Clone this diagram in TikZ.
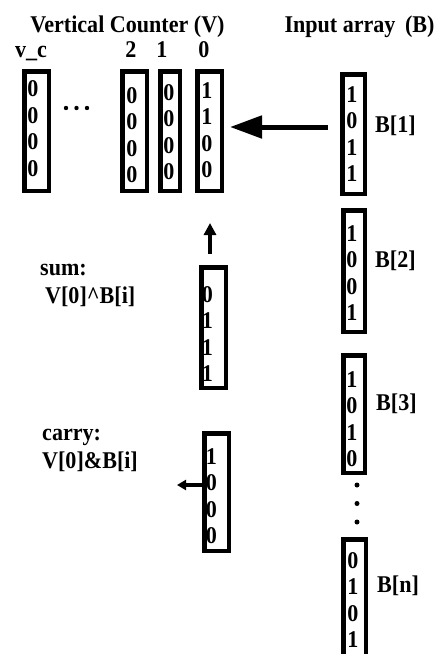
\documentclass[tikz,border=0pt]{standalone}
\usepackage{fontspec}
\setmainfont{Liberation Serif}[FakeStretch=0.92]
\usetikzlibrary{arrows.meta}
\begin{document}
\begin{tikzpicture}[x=1pt,y=-1pt,
  cell/.style={draw,line width=4.5pt,inner sep=0pt,outer sep=0pt,minimum width=24.5pt,minimum height=119.5pt},
  digits/.style={inner sep=0pt,align=center,font=\fontsize{24}{26.5}\selectfont\bfseries},
  lbl/.style={inner sep=0pt,anchor=base,font=\fontsize{24}{26}\selectfont\bfseries},
  lblw/.style={lbl,anchor=base west},
  dotmark/.style={fill=black,draw=none},
  bigarrow/.style={line width=5pt,-{Triangle[length=32pt,width=22pt]}},
  midarrow/.style={line width=4pt,-{Triangle[length=12pt,width=12pt]}},
  smallarrow/.style={line width=3.5pt,-{Triangle[length=9pt,width=10pt]}}]
\useasboundingbox (0,0) rectangle (439,654);

% headings
\node[lbl] (hv) at (127.5,32) {Vertical Counter (V)};
\node[lbl] (hb) at (359.5,32) {Input array\hspace{4pt} (B)};
\node[lbl] (ivc) at (31,57) {v\_c};
\node[lbl] (i2) at (131,57) {2};
\node[lbl] (i1) at (162,57) {1};
\node[lbl] (i0) at (204,57) {0};

% vertical counter cells
\node[cell] (Vc) at (36.5,131) {};
\node[digits] (Vcd) at (33,128.5) {0\\0\\0\\0};
\node[cell] (V2) at (134.5,131) {};
\node[digits] (V2d) at (132,135) {0\\0\\0\\0};
\node[cell,minimum width=19.5pt] (V1) at (170,131) {};
\node[digits] (V1d) at (169,132) {0\\0\\0\\0};
\node[cell] (V0) at (209.5,131) {};
\node[digits] (V0d) at (207,130) {1\\1\\0\\0};
\fill[dotmark] (66,108) circle (2.2) (76.5,108) circle (2.2) (87,108) circle (2.2);

% input array
\node[cell,minimum width=22.5pt] (B1) at (353.5,134) {};
\node[digits] (B1d) at (352,134) {1\\0\\1\\1};
\node[lblw] (lB1) at (375,132) {B[1]};
\node[cell,minimum width=21.5pt,minimum height=121.5pt] (B2) at (354,271) {};
\node[digits] (B2d) at (352,273) {1\\0\\0\\1};
\node[lblw] (lB2) at (375,267) {B[2]};
\node[cell,minimum width=21.5pt,minimum height=117.5pt] (B3) at (354,414) {};
\node[digits] (B3d) at (352,419) {1\\0\\1\\0};
\node[lblw] (lB3) at (376,410) {B[3]};
\fill[dotmark] (357,485) circle (2.5) (357,503.5) circle (2.5) (357,522) circle (2.5);
\node[cell,minimum width=22.5pt,minimum height=118.5pt] (Bn) at (354.5,598.5) {};
\node[digits] (Bnd) at (353,600) {0\\1\\0\\1};
\node[lblw] (lBn) at (377,592) {B[n]};

% sum and carry
\node[lblw] (lsum) at (40,275) {sum:};
\node[lblw] (lsumf) at (45,303) {V[0]\^{}B[i]};
\node[cell,minimum height=120.5pt] (S) at (213.5,327.5) {};
\node[digits] (Sd) at (207.5,334) {0\\1\\1\\1};
\node[lblw] (lcar) at (42,440) {carry:};
\node[lblw] (lcarf) at (42,468) {V[0]\&B[i]};
\node[cell,minimum height=117.5pt] (C) at (216.5,492) {};
\node[digits] (Cd) at (211.5,496) {1\\0\\0\\0};
\coordinate (cout) at (177,485);

% connectors
\draw[bigarrow,shorten <=14.25pt,shorten >=8.25pt] ([yshift=7pt]B1.west) -- ([yshift=4pt]V0.east);
\draw[midarrow,shorten <=13.25pt,shorten >=32.25pt] ([xshift=0.5pt]V0.south |- S.north) -- ([xshift=0.5pt]V0.south);
\draw[smallarrow] ([yshift=7pt]C.west) -- (cout);
\end{tikzpicture}
\end{document}
